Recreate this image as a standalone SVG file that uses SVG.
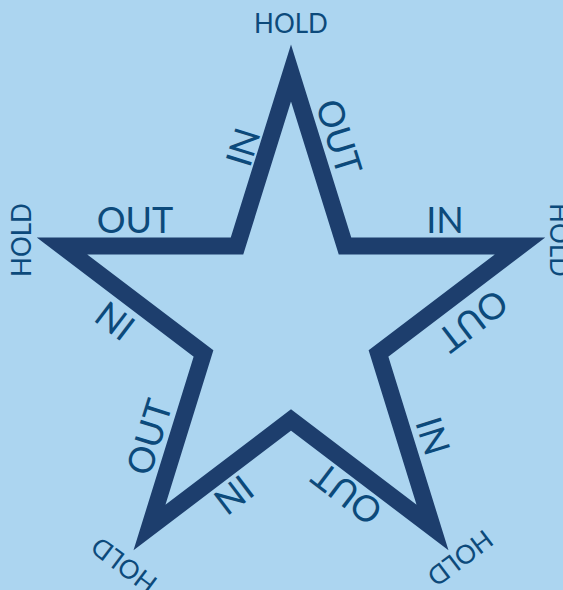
<svg xmlns="http://www.w3.org/2000/svg" width="563" height="590" viewBox="0 0 563 590">
  <style>
    .bg { fill: #acd5f0; }
    .star { fill: none; stroke: #1d3e6d; stroke-width: 17; stroke-linejoin: miter; stroke-miterlimit: 10; }
    .lbl { font-family: "Lato", "Liberation Sans", sans-serif; font-size: 36px; fill: #0c4a7b; text-anchor: middle; }
    .hold { font-family: "Lato", "Liberation Sans", sans-serif; font-size: 26px; fill: #0c4a7b; text-anchor: middle; }
  </style>
  <rect class="bg" x="0" y="0" width="563" height="590"/>
  <g id="connectors">
    <polygon id="star" class="star" points="291,73 345,246 520,246 378.5,353.5 432.5,527.5 291,420 149.5,527.5 203.5,353.5 62,246 237,246"/>
  </g>
  <g id="tip-top"><text class="hold" transform="translate(291,24)" y="9">HOLD</text></g>
  <g id="tip-right"><text class="hold" transform="translate(559,240) rotate(90)" y="9">HOLD</text></g>
  <g id="tip-left"><text class="hold" transform="translate(21.5,240) rotate(-90)" y="9">HOLD</text></g>
  <g id="tip-bottom-right"><text class="hold" transform="translate(460,558) rotate(143)" y="9">HOLD</text></g>
  <g id="tip-bottom-left"><text class="hold" transform="translate(124,565) rotate(-143)" y="9">HOLD</text></g>
  <g id="edge-labels">
    <g id="e1"><text class="lbl" transform="translate(339,137) rotate(72.7)" y="13">OUT</text></g>
    <g id="e2"><text class="lbl" transform="translate(445,220)" y="13">IN</text></g>
    <g id="e3"><text class="lbl" transform="translate(473,321) rotate(142.7)" y="13">OUT</text></g>
    <g id="e4"><text class="lbl" transform="translate(433,436) rotate(72.7)" y="13">IN</text></g>
    <g id="e5"><text class="lbl" transform="translate(347,494) rotate(-142.7)" y="13">OUT</text></g>
    <g id="e6"><text class="lbl" transform="translate(234,495) rotate(142.7)" y="13">IN</text></g>
    <g id="e7"><text class="lbl" transform="translate(149,437) rotate(-72.7)" y="13">OUT</text></g>
    <g id="e8"><text class="lbl" transform="translate(115,321) rotate(-142.7)" y="13">IN</text></g>
    <g id="e9"><text class="lbl" transform="translate(135,220)" y="13">OUT</text></g>
    <g id="e10"><text class="lbl" transform="translate(243,147) rotate(-72.7)" y="13">IN</text></g>
  </g>
</svg>
